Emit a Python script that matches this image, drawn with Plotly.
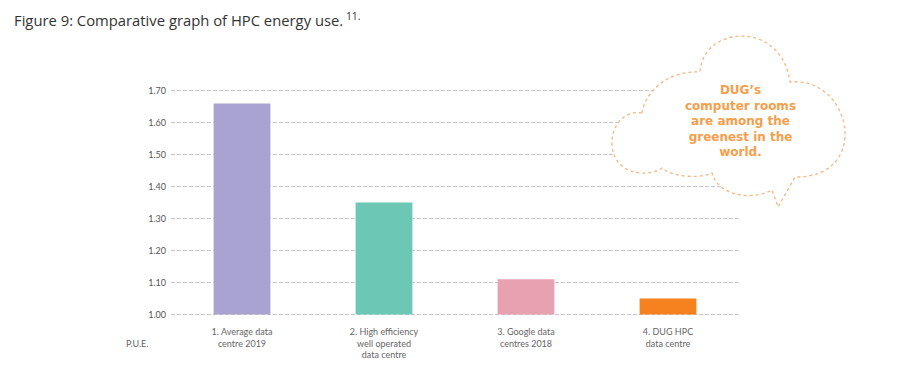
import plotly.graph_objects as go

categories = ["1. Average data<br>centre 2019",
              "2. High efficiency<br>well operated<br>data centre",
              "3. Google data<br>centres 2018",
              "4. DUG HPC<br>data centre"]
pue_values = [1.66, 1.35, 1.11, 1.05]
bar_colors = ["#A9A3D2", "#6DC7B5", "#E8A1B1", "#F5821F"]
y_ticks = [1.00, 1.10, 1.20, 1.30, 1.40, 1.50, 1.60, 1.70]
y_tick_labels = ["1.00", "1.10", "1.20", "1.30", "1.40", "1.50", "1.60", "1.70"]

W, H = 917, 377
OFF = 8  # page body margin
L, R, T, B = 163, 186, 81, 69
PW, PH = W - L - R, H - T - B

def px(x):
    return (x - OFF - L) / PW

def py(y):
    return (H - B - (y - OFF)) / PH

fig = go.Figure(go.Bar(
    x=list(range(len(categories))),
    y=[v - 1.0 for v in pue_values],
    base=1.0,
    marker=dict(color=bar_colors, line=dict(width=0)),
    width=0.4,
    hoverinfo="skip",
))

# cloud outline (screen pixel coords -> paper)
pts = [
    ("M", [(642, 113)]),
    ("C", [(645, 92), (668, 70), (700, 72)]),
    ("C", [(703, 25), (782, 20), (790, 82)]),
    ("C", [(852, 76), (872, 178), (795, 177)]),
    ("L", [(778, 207)]),
    ("L", [(772, 190)]),
    ("C", [(752, 201), (718, 196), (712, 173)]),
    ("C", [(700, 179), (672, 177), (662, 168)]),
    ("C", [(648, 178), (614, 175), (612, 145)]),
    ("C", [(611, 122), (628, 110), (642, 113)]),
]
path = ""
for cmd, ps in pts:
    path += cmd + " " + " ".join(f"{px(x):.4f},{py(y):.4f}" for x, y in ps) + " "
path += "Z"

fig.add_shape(type="path", path=path, xref="paper", yref="paper",
              line=dict(color="#F6B582", width=1.3, dash="dot"),
              fillcolor="white", layer="above")

fig.add_annotation(x=px(740), y=py(121), xref="paper", yref="paper",
                   text="DUG’s<br>computer rooms<br>are among the<br>greenest in the<br>world.",
                   showarrow=False, align="center", xanchor="center", yanchor="middle",
                   font=dict(family="DejaVu Sans", size=12, color="#F59E4C", weight="bold"))

fig.add_annotation(x=px(12), y=py(19), xref="paper", yref="paper",
                   text="Figure 9: Comparative graph of HPC energy use.<sup> 11.</sup>",
                   showarrow=False, xanchor="left", yanchor="middle",
                   font=dict(family="Open Sans", size=14.8, color="#333333"))

fig.add_annotation(x=px(137), y=py(343), xref="paper", yref="paper",
                   text="P.U.E.", showarrow=False, xanchor="center", yanchor="middle",
                   font=dict(family="Lato", size=9, color="#666666"))

fig.update_layout(
    width=W, height=H,
    margin=dict(l=L, r=R, t=T, b=B, autoexpand=False),
    plot_bgcolor="white", paper_bgcolor="white",
    showlegend=False,
    xaxis=dict(
        range=[-0.5, 3.5],
        tickvals=list(range(len(categories))),
        ticktext=categories,
        showgrid=False, zeroline=False, showline=False, ticks="",
        tickfont=dict(family="Lato", size=9, color="#666666"),
        tickangle=0,
        ticklabelstandoff=9,
    ),
    yaxis=dict(
        range=[0.995, 1.705],
        tickvals=y_ticks, ticktext=y_tick_labels,
        showgrid=True, gridcolor="#C8C8C8", griddash="4px,2px", gridwidth=1,
        zeroline=False, showline=False, ticks="",
        tickfont=dict(family="Lato", size=9, color="#555555"),
        ticklabelstandoff=4,
    ),
)

fig.write_html("out.html")
